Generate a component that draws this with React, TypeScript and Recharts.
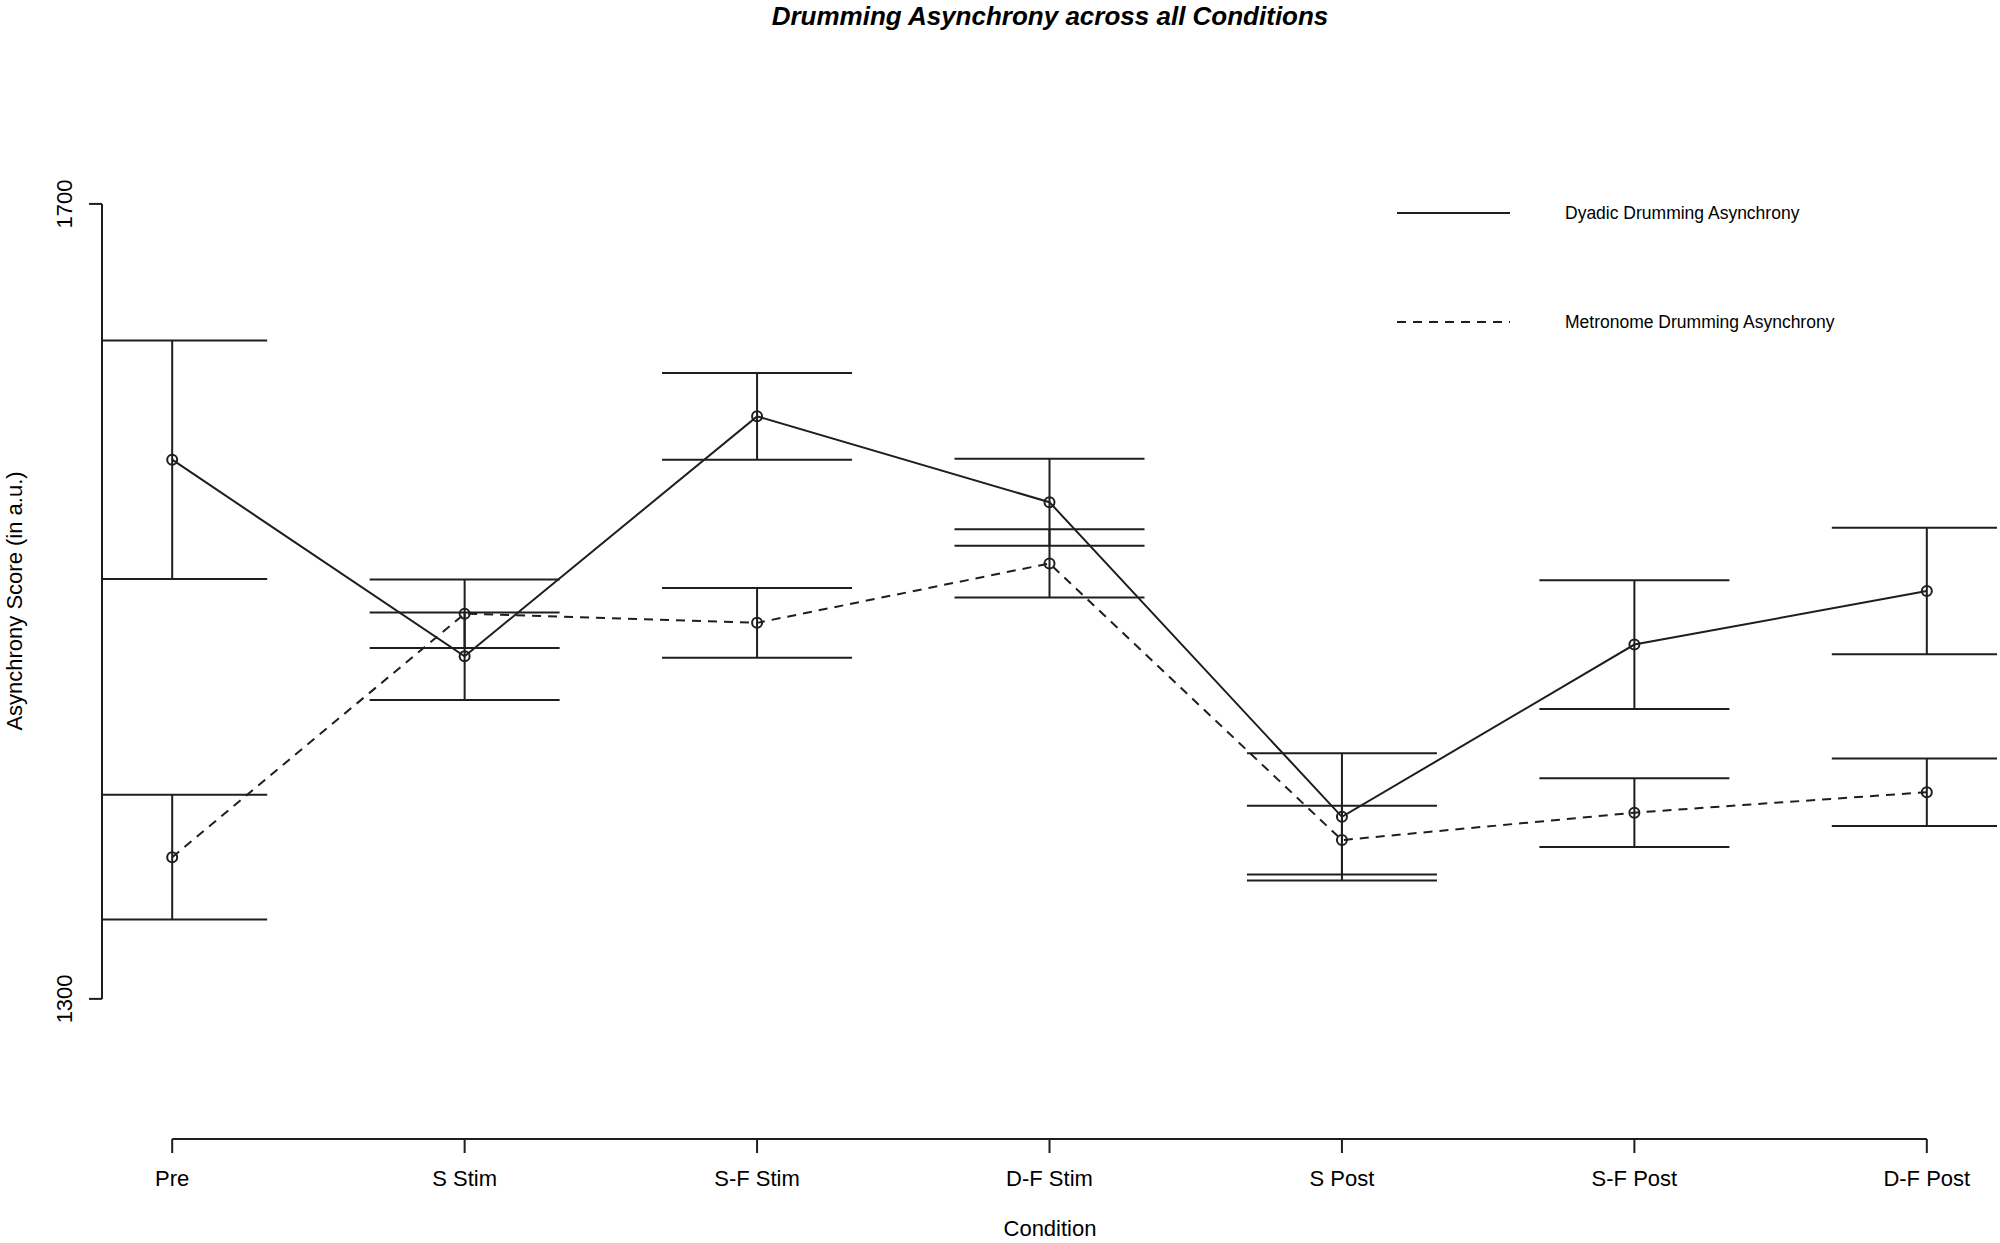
import { LineChart, Line, XAxis, YAxis, ErrorBar, ReferenceLine, Legend } from "recharts";

const categories = ["Pre", "S Stim", "S-F Stim", "D-F Stim", "S Post", "S-F Post", "D-F Post"];
const dyadicMean = [1571.3, 1472.4, 1593.1, 1549.9, 1391.6, 1478.3, 1505.2];
const dyadicErr = [60, 22, 21.8, 21.9, 32, 32.4, 31.8];
const metronomeMean = [1371.3, 1493.8, 1489.2, 1519.1, 1379.9, 1393.7, 1404];
const metronomeErr = [31.4, 17.2, 17.6, 17.2, 17.3, 17.3, 17];
const yTicks = [1300, 1700];
const xTicks = categories.map((_, i) => i + 1);

const data = categories.map((name, i) => ({
  x: i + 1,
  name,
  dyadic: dyadicMean[i],
  dyadicErr: dyadicErr[i],
  metronome: metronomeMean[i],
  metronomeErr: metronomeErr[i],
}));

const INK = "#1e1e1e";
const FONT = "'Liberation Sans', Arial, Helvetica, sans-serif";
const DASH = "9 7";

const YTick = ({ x, y, payload }: any) => {
  const bx = x - 15;
  return (
    <text x={bx} y={y} transform={`rotate(-90 ${bx} ${y})`} textAnchor="middle" fontSize={22} fontFamily={FONT} fill="#000">
      {payload.value}
    </text>
  );
};

const LegendBox = () => (
  <svg width={520} height={170} style={{ display: "block" }}>
    <line x1={17} y1={23} x2={130} y2={23} stroke={INK} strokeWidth={2} />
    <text x={185} y={23} dominantBaseline="central" fontSize={17.5} fontFamily={FONT} fill="#000">
      Dyadic Drumming Asynchrony
    </text>
    <line x1={17} y1={132} x2={130} y2={132} stroke={INK} strokeWidth={2} strokeDasharray={DASH} />
    <text x={185} y={132} dominantBaseline="central" fontSize={17.5} fontFamily={FONT} fill="#000">
      Metronome Drumming Asynchrony
    </text>
  </svg>
);

export default function App() {
  return (
    <div style={{ position: "absolute", left: 0, top: 0, width: 2000, height: 1243, background: "#fff" }}>
      {/* caps are cut at the plot region, as R's arrows() does */}
      <style>{".recharts-errorBar line, .recharts-errorBars line { clip-path: url(#plotClip); }"}</style>
      <svg width={0} height={0} style={{ position: "absolute" }}>
        <defs>
          <clipPath id="plotClip" clipPathUnits="userSpaceOnUse">
            <rect x={102} y={63} width={1895} height={1076} />
          </clipPath>
        </defs>
      </svg>
      <LineChart width={2000} height={1243} data={data} margin={{ top: 63, right: 3, bottom: 0, left: 0 }}>
        <XAxis
          type="number"
          dataKey="x"
          domain={[0.76, 7.24]}
          ticks={xTicks}
          allowDataOverflow
          axisLine={false}
          tickLine={{ stroke: INK, strokeWidth: 2 }}
          tickSize={14}
          tickMargin={17}
          height={104}
          tickFormatter={(v: number) => categories[v - 1]}
          tick={{ fontSize: 22, fontFamily: FONT, fill: "#000" }}
          interval={0}
        />
        <YAxis
          type="number"
          domain={[1229.5, 1770.9]}
          ticks={yTicks}
          allowDataOverflow
          axisLine={false}
          tickLine={{ stroke: INK, strokeWidth: 2 }}
          tickSize={13}
          width={102}
          tick={<YTick />}
        />
        <ReferenceLine segment={[{ x: 0.76, y: 1300 }, { x: 0.76, y: 1700 }]} stroke={INK} strokeWidth={2} ifOverflow="visible" />
        <ReferenceLine segment={[{ x: 1, y: 1229.5 }, { x: 7, y: 1229.5 }]} stroke={INK} strokeWidth={2} ifOverflow="visible" />
        <Line
          dataKey="dyadic"
          stroke={INK}
          strokeWidth={2}
          dot={{ r: 5, fill: "none", stroke: INK, strokeWidth: 2 }}
          isAnimationActive={false}
        >
          <ErrorBar dataKey="dyadicErr" width={95} stroke={INK} strokeWidth={2} direction="y" />
        </Line>
        <Line
          dataKey="metronome"
          stroke={INK}
          strokeWidth={2}
          strokeDasharray={DASH}
          dot={{ r: 5, fill: "none", stroke: INK, strokeWidth: 2, strokeDasharray: "none" }}
          isAnimationActive={false}
        >
          <ErrorBar dataKey="metronomeErr" width={95} stroke={INK} strokeWidth={2} direction="y" />
        </Line>
        <Legend
          layout="horizontal"
          verticalAlign="middle"
          align="center"
          content={<LegendBox />}
          wrapperStyle={{ position: "absolute", left: 1380, top: 190, width: 520, height: 170 }}
        />
      </LineChart>
      <svg width={2000} height={1243} style={{ position: "absolute", left: 0, top: 0, pointerEvents: "none" }}>
        <text x={1050} y={25} textAnchor="middle" fontSize={26} fontWeight="bold" fontStyle="italic" fontFamily={FONT} fill="#000">
          Drumming Asynchrony across all Conditions
        </text>
        <text x={22} y={601} transform="rotate(-90 22 601)" textAnchor="middle" fontSize={22} fontFamily={FONT} fill="#000">
          Asynchrony Score (in a.u.)
        </text>
        <text x={1050} y={1236} textAnchor="middle" fontSize={22} fontFamily={FONT} fill="#000">
          Condition
        </text>
      </svg>
    </div>
  );
}
